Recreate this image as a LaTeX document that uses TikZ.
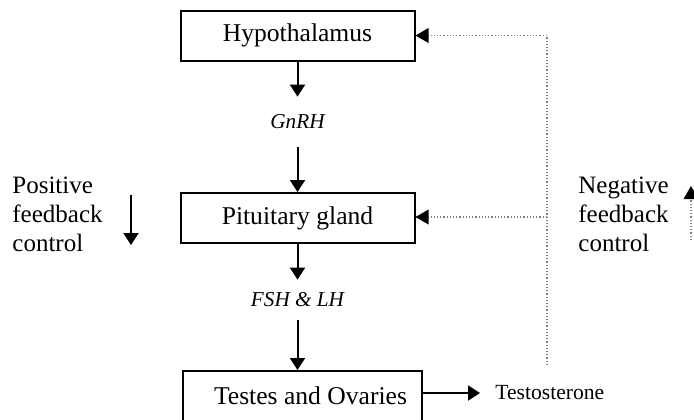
\documentclass[tikz,border=0pt]{standalone}
\usepackage{fontspec}
\setmainfont{Liberation Serif}
\usetikzlibrary{arrows.meta,positioning}

\begin{document}
\begin{tikzpicture}[x=0.5pt,y=-0.5pt,
    organ/.style={draw,line width=1pt,minimum width=117pt,minimum height=25pt,
      inner sep=0pt,font=\fontsize{12.8}{15}\selectfont},
    hormone/.style={inner sep=0pt,font=\fontsize{10.6}{13}\selectfont\itshape},
    label/.style={align=left,inner sep=0pt,font=\fontsize{12.5}{14.5}\selectfont},
    flow/.style={line width=1pt,-{Triangle[length=6pt,width=7.5pt]}},
    fb/.style={gray,line width=0.6pt,dash pattern=on 0.6pt off 1pt}]
  \useasboundingbox (0,0) rectangle (694,419);

  \node[organ] (hyp) at (297.5,35.5) {Hypothalamus};
  \node[organ] (pit) at (297.5,218) {Pituitary gland};
  \node[organ,minimum width=119.5pt] (gon) at (302.5,396) {\hspace*{8pt}Testes and Ovaries};

  \node[hormone,minimum height=25pt] (gnrh) at (297.5,122) {GnRH};
  \node[hormone,minimum height=20pt] (fshlh) at (297.5,300) {FSH \& LH};

  \node[anchor=west,inner xsep=7.5pt,inner ysep=0pt,font=\fontsize{10.8}{13}\selectfont]
    (testo) at (480,393) {Testosterone};

  \node[label,anchor=west] (pos) at (12,214) {Positive\\feedback\\control};
  \node[label,anchor=west] (neg) at (578,214) {Negative\\feedback\\control};

  \draw[flow] (hyp) -- (gnrh);
  \draw[flow] (gnrh) -- (pit);
  \draw[flow] (pit) -- (fshlh);
  \draw[flow] (fshlh.south) -- (fshlh.south |- gon.north);
  \draw[flow] (gon.east |- testo.west) -- (testo.west);

  \coordinate (fbbot) at (547,365);
  \coordinate (fbmid) at (547,217);
  \draw[fb] (fbbot) |- (hyp.east);
  \draw[fb] (fbmid) -- (pit.east |- fbmid);
  \fill (hyp.east) -- ++(13,-7.5) -- ++(0,15) -- cycle;
  \fill (pit.east |- fbmid) -- ++(13,-7.5) -- ++(0,15) -- cycle;

  \coordinate (posA) at (131,195);
  \coordinate (posB) at (131,245);
  \draw[flow] (posA) -- (posB);

  \coordinate (negA) at (691,240);
  \coordinate (negB) at (691,186);
  \draw[fb] (negA) -- (negB);
  \fill (negB) -- ++(-7.5,13) -- ++(15,0) -- cycle;
\end{tikzpicture}
\end{document}
